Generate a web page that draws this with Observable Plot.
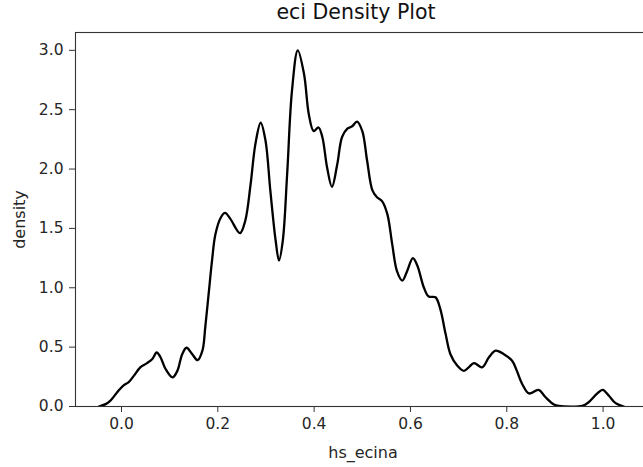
<!DOCTYPE html>
<html>
<head>
<meta charset="utf-8">
<script src="https://cdn.jsdelivr.net/npm/d3@7"></script>
<script src="https://cdn.jsdelivr.net/npm/@observablehq/plot@0.6"></script>
<style>
  html, body { margin: 0; padding: 0; background: #fff; overflow: hidden; }
  #title { height: 26px; line-height: 25px; font-family: "DejaVu Sans", sans-serif; font-size: 20.5px; color: #111; text-align: center; padding-left: 69px; width: 574px; white-space: nowrap; }
  #chart svg { overflow: hidden; }
</style>
</head>
<body>
<div id="title">eci Density Plot</div>
<div id="chart"></div>
<script>
const titleText = "eci Density Plot";
const xLabel = "hs_ecina";
const yLabel = "density";
const xTicks = [0.0, 0.2, 0.4, 0.6, 0.8, 1.0];
const yTicks = [0.0, 0.5, 1.0, 1.5, 2.0, 2.5, 3.0];

const hsEcina = [
  -0.047, -0.033, -0.023, -0.006, 0.005, 0.015, 0.026, 0.039, 0.053, 0.064,
  0.073, 0.081, 0.091, 0.106, 0.116, 0.126, 0.135, 0.147, 0.158, 0.168,
  0.174, 0.181, 0.188, 0.195, 0.206, 0.215, 0.226, 0.246, 0.257, 0.268,
  0.278, 0.289, 0.299, 0.309, 0.320, 0.327, 0.335, 0.344, 0.354, 0.366,
  0.379, 0.389, 0.399, 0.409, 0.417, 0.427, 0.437, 0.448, 0.458, 0.469,
  0.479, 0.489, 0.500, 0.510, 0.521, 0.531, 0.541, 0.552, 0.562, 0.572,
  0.583, 0.593, 0.605, 0.614, 0.628, 0.638, 0.652, 0.662, 0.673, 0.683,
  0.697, 0.711, 0.721, 0.732, 0.749, 0.763, 0.777, 0.794, 0.811, 0.820,
  0.832, 0.846, 0.866, 0.880, 0.898, 0.908, 0.957, 0.970, 0.988, 0.999,
  1.012, 1.026, 1.043
];
const density = [
  0.0, 0.02, 0.05, 0.135, 0.18, 0.205, 0.26, 0.33, 0.365, 0.40,
  0.455, 0.415, 0.32, 0.245, 0.30, 0.44, 0.495, 0.44, 0.39, 0.47,
  0.67, 0.95, 1.23, 1.45, 1.59, 1.63, 1.58, 1.46, 1.565, 1.87,
  2.21, 2.39, 2.24, 1.82, 1.40, 1.23, 1.40, 1.96, 2.66, 3.00,
  2.80, 2.46, 2.32, 2.35, 2.27, 2.01, 1.85, 2.04, 2.27, 2.34,
  2.36, 2.40, 2.32, 2.07, 1.82, 1.76, 1.73, 1.62, 1.37, 1.14,
  1.06, 1.14, 1.25, 1.19, 1.00, 0.926, 0.92, 0.82, 0.61, 0.44,
  0.345, 0.30, 0.33, 0.365, 0.33, 0.415, 0.47, 0.44, 0.385, 0.31,
  0.19, 0.11, 0.14, 0.08, 0.017, 0.005, 0.005, 0.036, 0.11, 0.14,
  0.09, 0.028, 0.0
];

const data = hsEcina.map((x, i) => ({x, y: density[i]}));
document.getElementById("title").textContent = titleText;

const fmt = d3.format(".1f");
const axisColor = "#333";
const textColor = "#262626";

const chart = Plot.plot({
  width: 643,
  height: 441,
  marginLeft: 75,
  marginRight: -7,
  marginTop: 6,
  marginBottom: 61,
  style: {fontFamily: "DejaVu Sans, sans-serif", fontSize: "15px", color: textColor, background: "#fff"},
  x: {domain: [-0.0955, 1.0984], range: [75, 650]},
  y: {domain: [0, 3.15], range: [380, 6]},
  marks: [
    Plot.line(data, {x: "x", y: "y", stroke: "#000", strokeWidth: 2.3, curve: "catmull-rom", clip: true}),
    Plot.frame({stroke: axisColor, strokeWidth: 1.1}),
    Plot.axisX({ticks: xTicks, tickFormat: fmt, tickSize: 6, tickPadding: 5, stroke: axisColor, label: null, fontSize: 15.5}),
    Plot.axisY({ticks: yTicks, tickFormat: fmt, tickSize: 6, tickPadding: 6, stroke: axisColor, label: null, fontSize: 15.5}),
    Plot.text([xLabel], {frameAnchor: "bottom", dy: 46, text: d => d, textAnchor: "middle", lineAnchor: "middle", fontSize: 16, fill: textColor}),
    Plot.text([yLabel], {frameAnchor: "left", dx: -56, text: d => d, rotate: -90, textAnchor: "middle", lineAnchor: "middle", fontSize: 16, fill: textColor})
  ]
});
document.getElementById("chart").appendChild(chart);
</script>
</body>
</html>
